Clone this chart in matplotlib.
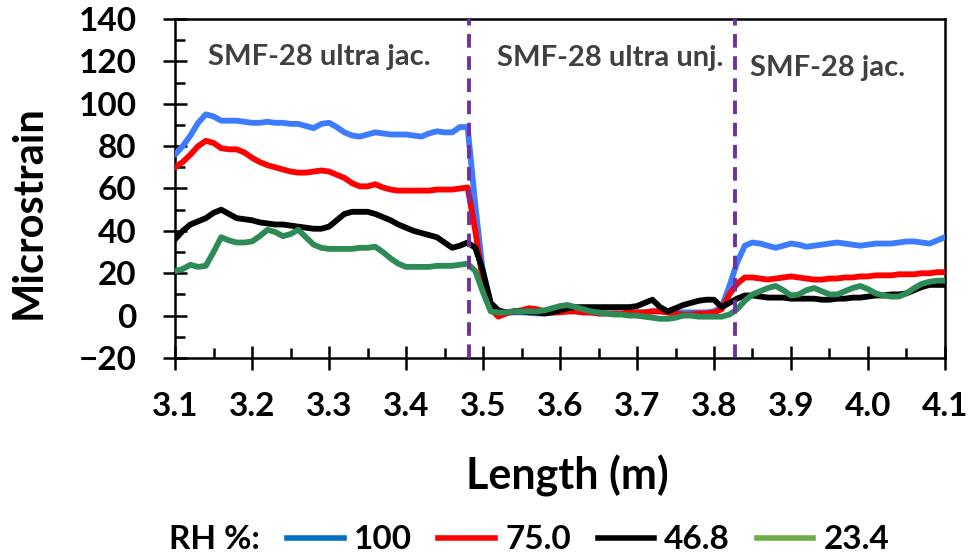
import numpy as np
import matplotlib
matplotlib.use("Agg")
import matplotlib.pyplot as plt
from matplotlib.lines import Line2D
from matplotlib.ticker import MultipleLocator, FormatStrFormatter

plt.rcParams['font.family'] = ['Lato', 'DejaVu Sans']
plt.rcParams['font.weight'] = 'bold'

# Length positions along the fibre (m), 1 cm sampling
length_m = np.linspace(3.10, 4.10, 101)

rh_100 = [76, 80, 85, 91, 95, 94, 92, 92, 92, 91.5,
          91, 91, 91.5, 91, 91, 90.5, 90.5, 89.5, 88.5, 90.5,
          91, 89, 86.5, 85, 84.5, 85.5, 86.5, 86, 85.5, 85.5,
          85.5, 85, 84.5, 86, 87, 86.5, 86.5, 89, 89, 52,
          20, 4, 2, 1.5, 1.5, 1.5, 1.5, 1, 1, 1.5,
          2, 2, 2, 1.5, 1.5, 1, 1, 1, 1, 1.5,
          1.5, 1.5, 2, 2, 1.5, 1.5, 1.5, 1.5, 1.5, 1.5,
          2, 4, 14, 25, 33, 34.5, 34, 33, 32, 33,
          34, 33.5, 32.5, 33, 33.5, 34, 34.5, 34, 33.5, 33,
          33.5, 34, 34, 34, 34.5, 35, 35, 34.5, 34, 35.5, 37]

rh_75 = [70, 72.5, 76, 80, 82.5, 81.5, 79, 78.5, 78.5, 77,
         74.5, 72.5, 71, 70, 69, 68, 67.5, 67.5, 68, 68.5,
         68, 66.5, 65, 62.5, 61, 61, 62, 60.5, 59.5, 59,
         59, 59, 59, 59, 59.5, 59.5, 59.5, 60, 60.5, 40,
         16, 3, -0.5, 1, 2, 2.5, 3.5, 3, 2, 1.5,
         1.5, 2, 2, 1.5, 1.5, 1, 1, 1, 1, 1.5,
         1.5, 1.5, 2, 2, 1.5, 1, 0.5, 0.5, 1, 1,
         1.5, 3, 10, 15, 18, 18, 17.5, 17, 17.5, 18,
         18.5, 18, 17.5, 17, 17, 17.5, 17.5, 18, 18, 18.5,
         18.5, 19, 19, 19, 19.5, 19.5, 19.5, 20, 20, 20.5, 20.5]

rh_46_8 = [36, 40, 43, 44.5, 46, 48.5, 50, 48, 46, 45.5,
           45, 44, 43.5, 43, 43, 42.5, 42, 41.5, 41, 41,
           42, 45, 48, 49, 49, 49, 48, 46.5, 45, 43,
           41.5, 40, 39, 38, 37, 34.5, 32, 33, 34.5, 32,
           21, 6, 2.5, 1.5, 2, 2, 1.5, 1.5, 1, 1.5,
           2.5, 3.5, 4, 4, 4, 4, 4, 4, 4, 4,
           4.5, 6, 7.5, 4, 2, 3.5, 5, 6, 7, 7.5,
           7.5, 4, 6, 8, 9.5, 9.5, 9, 8.5, 8.5, 8.5,
           8, 8, 8, 8, 7.5, 7.5, 8, 8, 8.5, 8.5,
           9, 9.5, 9.5, 10, 10, 10.5, 12, 13.5, 14.5, 14.5, 14.5]

rh_23_4 = [21, 22, 24, 23, 23.5, 30, 37, 35.5, 34.5, 34.5,
           35, 37.5, 40.5, 39.5, 37.5, 38.5, 40.5, 37, 33.5, 32,
           31.5, 31.5, 31.5, 31.5, 32, 32, 32.5, 30, 27, 24.5,
           23, 23, 23, 23, 23.5, 23.5, 23.5, 24, 24.5, 21,
           11, 2, 1.5, 1.5, 2, 2, 2, 2, 2.5, 3.5,
           4.5, 5, 4, 3, 2, 1.5, 1, 0.5, 0.5, 0,
           0, -0.5, -1, -1.5, -1.5, -1, 0, 0, -0.5, -0.5,
           -0.5, -0.5, 0.5, 3, 7, 10, 11.5, 13, 14, 12,
           9.5, 10, 12, 13, 11.5, 10, 10, 11.5, 13, 14,
           12.5, 10.5, 9.5, 9, 9, 10.5, 13, 15, 16, 16.5, 16.5]

rh_labels = ['100', '75.0', '46.8', '23.4']
line_colors = ['#3d7cff', '#ff0000', '#000000', '#2e8b57']
legend_colors = ['#0070c0', '#ff0000', '#000000', '#70ad47']

section_bounds = [3.482, 3.827]
section_names = ['SMF-28 ultra jac.', 'SMF-28 ultra unj.', 'SMF-28 jac.']
section_text_x = [3.288, 3.665, 3.948]
section_text_y = [122, 121.5, 117]

fig = plt.figure(figsize=(9.73, 5.59), dpi=100)
ax = fig.add_axes([0.1799, 0.3596, 0.7913, 0.6064])

for series, col in zip([rh_100, rh_75, rh_46_8, rh_23_4], line_colors):
    ax.plot(length_m, series, color=col, lw=4.2, solid_joinstyle='round',
            solid_capstyle='round', zorder=3)

for xb in section_bounds:
    ax.axvline(xb, color='#7030a0', lw=2.8, ls=(0, (3.5, 2.2)), zorder=4)

for name, tx, ty in zip(section_names, section_text_x, section_text_y):
    ax.text(tx, ty, name, ha='center', va='center', fontsize=21,
            color='#404040', fontweight='bold')

ax.set_xlim(3.1, 4.1)
ax.set_ylim(-20, 140)
ax.xaxis.set_major_locator(MultipleLocator(0.1))
ax.xaxis.set_minor_locator(MultipleLocator(0.05))
ax.yaxis.set_major_locator(MultipleLocator(20))
ax.yaxis.set_minor_locator(MultipleLocator(10))
ax.xaxis.set_major_formatter(FormatStrFormatter('%.1f'))

ax.tick_params(which='major', direction='inout', length=17, width=1.8,
               labelsize=24)
ax.tick_params(axis='x', which='major', pad=16)
ax.tick_params(axis='y', which='major', pad=19)
ax.tick_params(which='minor', direction='in', length=7, width=1.8)
for sp in ax.spines.values():
    sp.set_linewidth(1.8)

ax.set_xlabel('Length (m)', fontsize=31, fontweight='bold')
ax.set_ylabel('Microstrain', fontsize=30, fontweight='bold')
ax.xaxis.set_label_coords(0.509, -0.286)
ax.yaxis.set_label_coords(-0.166, 0.43)

handles = [Line2D([], [], color=c, lw=4) for c in legend_colors]
fig.text(0.174, 0.034, 'RH %:', fontsize=24, fontweight='bold',
         ha='left', va='center')
fig.legend(handles, rh_labels, loc='center left', bbox_to_anchor=(0.295, 0.034),
           ncol=4, frameon=False, fontsize=24, handlelength=1.7,
           handletextpad=0.3, columnspacing=0.8, borderaxespad=0, borderpad=0)

fig.savefig('out.png', dpi=100)
